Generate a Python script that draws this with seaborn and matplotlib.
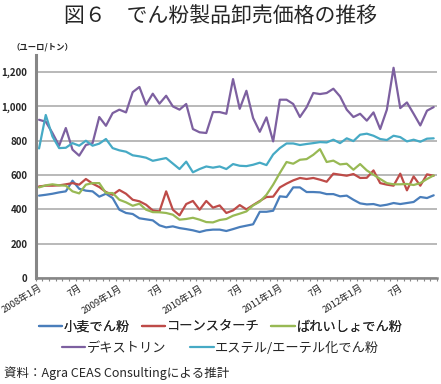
import matplotlib
matplotlib.use('Agg')
import matplotlib.pyplot as plt
import matplotlib.transforms as mtransforms
import seaborn as sns
import pandas as pd
from matplotlib.ticker import FuncFormatter, FixedLocator

# monthly values, 2008-01 .. 2012-12 (euro / ton)
wheat = [480, 485, 491, 499, 505, 567, 520, 509, 505, 474, 491, 466, 398, 379, 373, 348, 342, 336, 307, 295,
         301, 291, 285, 278, 268, 278, 282, 282, 274, 285, 297, 305, 313, 386, 386, 392, 476, 472, 528, 528,
         501, 501, 499, 489, 489, 476, 480, 456, 435, 429, 431, 421, 427, 437, 431, 437, 443, 472, 466, 482]
corn = [534, 538, 538, 540, 546, 553, 544, 577, 550, 530, 501, 485, 513, 491, 456, 447, 427, 394, 388, 505,
        398, 365, 431, 449, 398, 449, 410, 423, 379, 394, 425, 400, 425, 449, 472, 474, 528, 550, 569, 583,
        577, 583, 573, 561, 608, 602, 596, 606, 583, 584, 627, 553, 544, 538, 608, 511, 592, 538, 604, 596]
potato = [528, 540, 546, 540, 538, 505, 493, 544, 553, 553, 495, 495, 456, 441, 421, 433, 398, 384, 383, 379,
          369, 340, 344, 351, 340, 326, 324, 338, 344, 363, 375, 388, 423, 445, 485, 544, 612, 676, 666, 689,
          693, 718, 751, 676, 684, 662, 666, 631, 664, 627, 602, 577, 553, 546, 546, 548, 542, 553, 577, 598]
dextrin = [922, 911, 845, 771, 874, 748, 713, 775, 786, 938, 887, 961, 981, 965, 1083, 1113, 1010, 1074, 1016, 1062,
           1000, 981, 1014, 868, 849, 845, 967, 967, 957, 1159, 986, 1091, 932, 852, 936, 796, 1039, 1039, 1014, 938,
           995, 1078, 1072, 1078, 1103, 1058, 981, 938, 957, 917, 965, 868, 981, 1225, 990, 1023, 957, 889, 975, 996]
ester = [755, 950, 825, 757, 759, 786, 771, 800, 771, 783, 810, 757, 744, 736, 715, 709, 701, 683, 691, 699,
         667, 635, 678, 616, 635, 650, 643, 650, 635, 664, 654, 652, 660, 672, 658, 720, 757, 784, 784, 775,
         781, 786, 792, 790, 806, 786, 814, 798, 835, 841, 829, 810, 804, 829, 821, 796, 806, 794, 812, 814]

series_names = ['小麦でん粉', 'コーンスターチ', 'ばれいしょでん粉', 'デキストリン', 'エステル/エーテル化でん粉']
colors = ['#4a7ebb', '#be4b48', '#98b954', '#7d60a0', '#46aac5']
tick_labels = ['2008年1月', '7月', '2009年1月', '7月', '2010年1月', '7月',
               '2011年1月', '7月', '2012年1月', '7月']

sns.set_theme(style='white')
plt.rcParams['font.family'] = ['Noto Sans CJK JP', 'DejaVu Sans']

months = list(range(len(wheat)))
frames = []
for name, vals in zip(series_names, [wheat, corn, potato, dextrin, ester]):
    frames.append(pd.DataFrame({'month': months, 'price': vals, 'series': name}))
df = pd.concat(frames, ignore_index=True)

fig = plt.figure(figsize=(4.41, 3.84), dpi=100)
ax = fig.add_axes([0.081, 0.276, 0.910, 0.581])

sns.lineplot(data=df, x='month', y='price', hue='series', hue_order=series_names,
             palette=colors, linewidth=1.6, ax=ax, legend=False)

ax.set_xlim(-0.5, len(wheat) - 0.5)
ax.set_ylim(0, 1300)
ax.set_yticks(range(0, 1201, 200))
ax.yaxis.set_major_formatter(FuncFormatter(lambda v, p: f'{int(v):,}'))
ax.yaxis.grid(True, color='#a6a6a6', linewidth=1.1)
ax.set_axisbelow(True)

ax.set_xticks(range(0, len(wheat), 6))
ax.set_xticklabels(tick_labels, rotation=32, ha='right', rotation_mode='anchor', fontsize=6.8)
shift = mtransforms.ScaledTranslation(5 / 100, 0, fig.dpi_scale_trans)
for lbl in ax.get_xticklabels():
    lbl.set_transform(lbl.get_transform() + shift)
ax.xaxis.set_minor_locator(FixedLocator([m - 0.5 for m in range(len(wheat) + 1)]))
ax.tick_params(axis='x', which='major', length=0, pad=4)
ax.tick_params(axis='x', which='minor', bottom=True, length=2.5, color='#868686', width=0.8)
ax.tick_params(axis='y', labelsize=7, length=0, pad=6)
for lbl in ax.get_yticklabels():
    lbl.set_fontweight('bold')
ax.set_xlabel('')
ax.set_ylabel('')

for s in ['top', 'right']:
    ax.spines[s].set_visible(False)
ax.spines['left'].set_color('#868686')
ax.spines['left'].set_linewidth(2.2)
ax.spines['bottom'].set_color('#868686')
ax.spines['bottom'].set_linewidth(1.8)

fig.text(0.5, 0.958, '図６　でん粉製品卸売価格の推移', ha='center', va='center', fontsize=15)
fig.text(0.025, 0.878, '（ユーロ/トン）', ha='left', va='center', fontsize=6, fontweight='bold')

handles = [plt.Line2D([], [], color=c, linewidth=1.6) for c in colors]
leg1 = fig.legend(handles[:3], series_names[:3], loc='center', bbox_to_anchor=(0.5, 0.148),
                  ncol=3, frameon=False, fontsize=9.5, handlelength=1.8, handletextpad=0.1,
                  columnspacing=0.9, borderpad=0)
leg2 = fig.legend(handles[3:], series_names[3:], loc='center', bbox_to_anchor=(0.5, 0.093),
                  ncol=2, frameon=False, fontsize=9.5, handlelength=1.8, handletextpad=0.1,
                  columnspacing=1.8, borderpad=0)
fig.add_artist(leg1)

fig.text(0.008, 0.028, '資料：Agra CEAS Consultingによる推計', ha='left', va='center', fontsize=9)

fig.savefig('out.png', dpi=100, facecolor='white')
plt.close(fig)
